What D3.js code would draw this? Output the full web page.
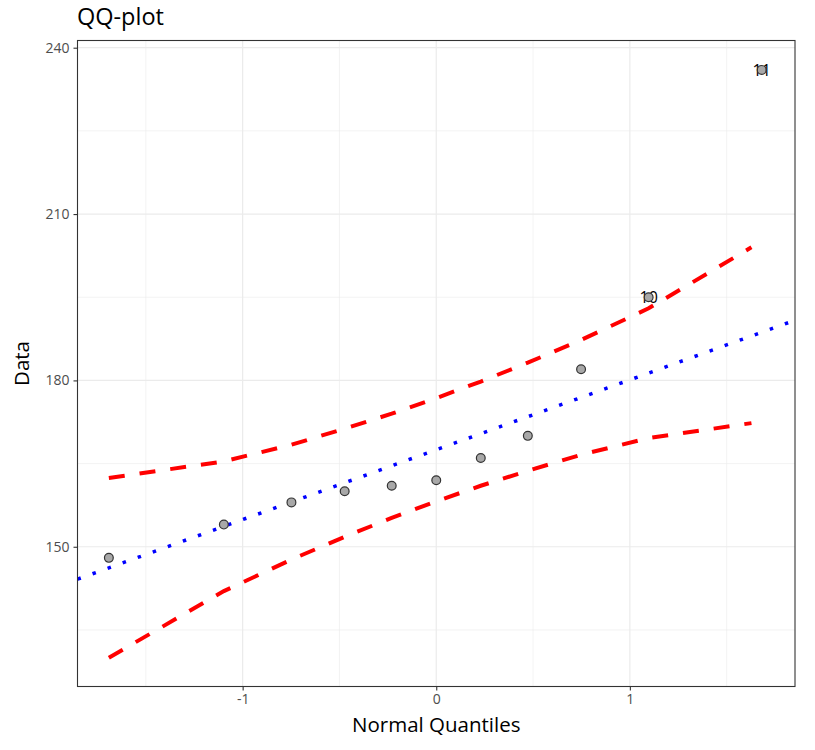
<!DOCTYPE html>
<meta charset="utf-8">
<style>
body { margin: 0; background: #fff; }
text { font-family: "Open Sans", "Noto Sans", sans-serif; }
.tick text { fill: #4d4d4d; font-size: 14px; }
</style>
<body>
<script src="https://d3js.org/d3.v7.min.js"></script>
<script>

// theoretical normal quantiles of the 11 observations
var quantiles = [-1.691, -1.097, -0.748, -0.473, -0.230, 0, 0.230, 0.473, 0.748, 1.097, 1.681];
// sorted sample values
var values = [148, 154, 158, 160, 161, 162, 166, 170, 182, 195, 236];
// labels of flagged points
var labels = ["", "", "", "", "", "", "", "", "", "10", "11"];
// confidence envelope: positions and limits
var bandQuantiles = [-1.691, -1.097, -0.748, -0.473, -0.230, 0, 0.230, 0.473, 0.748, 1.097, 1.628];
var upperBand = [162.4, 165.4, 168.4, 171.3, 174.0, 176.8, 179.8, 183.2, 187.3, 193.0, 204.0];
var lowerBand = [130.0, 142.0, 147.7, 151.8, 155.2, 158.2, 161.0, 163.7, 166.6, 169.6, 172.3];
// reference line through the quartiles
var lineIntercept = 167.5,
    lineSlope = 12.6;

var xTicks = [-1, 0, 1],
    xMinor = [-1.5, -0.5, 0.5, 1.5],
    yTicks = [150, 180, 210, 240],
    yMinor = [135, 165, 195, 225];

var width = 815,
    height = 750,
    margin = {top: 40.5, right: 20, bottom: 63.5, left: 77.5};

var svg = d3.select("body").append("svg")
    .attr("width", width)
    .attr("height", height);

var x = d3.scaleLinear()
    .domain([-1.853, 1.853])
    .range([margin.left, width - margin.right]);

var y = d3.scaleLinear()
    .domain([124.8, 241.3])
    .range([height - margin.bottom, margin.top]);

var grid = svg.append("g");

grid.selectAll(".xminor").data(xMinor).enter().append("line")
    .attr("x1", x).attr("x2", x)
    .attr("y1", y.range()[0]).attr("y2", y.range()[1])
    .attr("stroke", "#ebebeb").attr("stroke-width", 0.6);
grid.selectAll(".yminor").data(yMinor).enter().append("line")
    .attr("y1", y).attr("y2", y)
    .attr("x1", x.range()[0]).attr("x2", x.range()[1])
    .attr("stroke", "#ebebeb").attr("stroke-width", 0.6);
grid.selectAll(".xmajor").data(xTicks).enter().append("line")
    .attr("x1", x).attr("x2", x)
    .attr("y1", y.range()[0]).attr("y2", y.range()[1])
    .attr("stroke", "#ebebeb").attr("stroke-width", 1.2);
grid.selectAll(".ymajor").data(yTicks).enter().append("line")
    .attr("y1", y).attr("y2", y)
    .attr("x1", x.range()[0]).attr("x2", x.range()[1])
    .attr("stroke", "#ebebeb").attr("stroke-width", 1.2);

var plot = svg.append("g");

svg.append("defs").append("clipPath").attr("id", "panel")
  .append("rect")
    .attr("x", x.range()[0]).attr("y", y.range()[1])
    .attr("width", x.range()[1] - x.range()[0])
    .attr("height", y.range()[0] - y.range()[1]);

// reference line
plot.append("line")
    .attr("clip-path", "url(#panel)")
    .attr("x1", x(x.domain()[0])).attr("y1", y(lineIntercept + lineSlope * x.domain()[0]))
    .attr("x2", x(x.domain()[1])).attr("y2", y(lineIntercept + lineSlope * x.domain()[1]))
    .attr("stroke", "#0000ff")
    .attr("stroke-width", 3.5)
    .attr("stroke-dasharray", "3.5,12.5");

var band = d3.line()
    .x(function(d) { return x(d[0]); })
    .y(function(d) { return y(d[1]); });

[upperBand, lowerBand].forEach(function(b) {
  plot.append("path")
      .attr("d", band(bandQuantiles.map(function(q, i) { return [q, b[i]]; })))
      .attr("fill", "none")
      .attr("stroke", "#ff0000")
      .attr("stroke-width", 4)
      .attr("stroke-dasharray", "16,15");
});

var pts = quantiles.map(function(q, i) { return {q: q, v: values[i], label: labels[i]}; });

plot.selectAll(".lbl").data(pts.filter(function(d) { return d.label; })).enter().append("text")
    .attr("x", function(d) { return x(d.q); })
    .attr("y", function(d) { return y(d.v); })
    .attr("dy", "0.36em")
    .attr("text-anchor", "middle")
    .attr("font-size", 16)
    .attr("fill", "#000")
    .text(function(d) { return d.label; });

plot.selectAll(".pt").data(pts).enter().append("circle")
    .attr("cx", function(d) { return x(d.q); })
    .attr("cy", function(d) { return y(d.v); })
    .attr("r", 4.4)
    .attr("fill", "#a8a8a8")
    .attr("stroke", "#333")
    .attr("stroke-width", 1.2);

// panel border
svg.append("rect")
    .attr("x", x.range()[0]).attr("y", y.range()[1])
    .attr("width", x.range()[1] - x.range()[0])
    .attr("height", y.range()[0] - y.range()[1])
    .attr("fill", "none")
    .attr("stroke", "#333")
    .attr("stroke-width", 1.1);

var xAxis = svg.append("g")
    .attr("transform", "translate(0," + y.range()[0] + ")")
    .call(d3.axisBottom(x).tickValues(xTicks).tickSize(4).tickPadding(4).tickFormat(d3.format("d")));
var yAxis = svg.append("g")
    .attr("transform", "translate(" + x.range()[0] + ",0)")
    .call(d3.axisLeft(y).tickValues(yTicks).tickSize(4).tickPadding(4));

[xAxis, yAxis].forEach(function(a) {
  a.select(".domain").remove();
  a.selectAll(".tick line").attr("stroke", "#333").attr("stroke-width", 1.1);
  a.selectAll(".tick text").attr("font-family", null).attr("font-size", null);
});
xAxis.selectAll(".tick text").text(function(d) { return d < 0 ? "-" + Math.abs(d) : d; });

svg.append("text")
    .attr("x", (x.range()[0] + x.range()[1]) / 2)
    .attr("y", 732)
    .attr("text-anchor", "middle")
    .attr("font-size", 20.5)
    .attr("fill", "#000")
    .text("Normal Quantiles");

svg.append("text")
    .attr("transform", "translate(29," + (y.range()[0] + y.range()[1]) / 2 + ") rotate(-90)")
    .attr("text-anchor", "middle")
    .attr("font-size", 20.5)
    .attr("fill", "#000")
    .text("Data");

svg.append("text")
    .attr("x", 77)
    .attr("y", 25)
    .attr("font-size", 23.5)
    .attr("fill", "#000")
    .text("QQ-plot");

</script>
</body>
</html>
